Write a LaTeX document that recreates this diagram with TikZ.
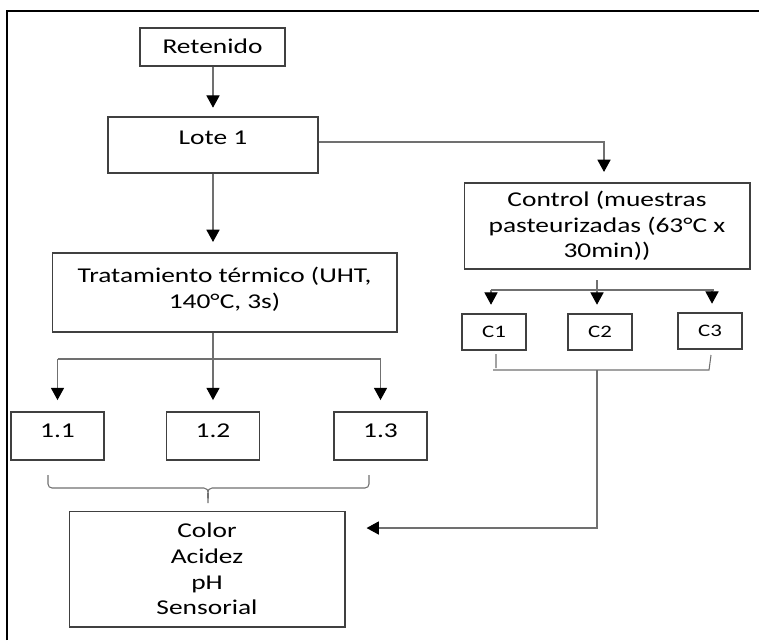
\documentclass[tikz,border=0pt]{standalone}
\usepackage{fontspec}
\setmainfont{Carlito}[FakeStretch=1.3]
\usetikzlibrary{arrows.meta}
\definecolor{lingray}{RGB}{112,112,112}
\definecolor{boxgray}{RGB}{64,64,64}
\tikzset{
	box/.style = {draw=boxgray, line width=0.6pt, inner sep=0pt, align=center,
		font=\fontsize{12}{14.6}\selectfont},
	conn/.style = {draw=lingray, line width=0.6pt},
	arr/.style = {conn, -{Triangle[width=7.5pt,length=7pt,color=black]}}
}
\begin{document}
\begin{tikzpicture}[x=0.02cm, y=-0.02cm]
	\useasboundingbox (0,0) rectangle (759,640);
	% frame, only top and left show
	\draw[line width=1.3pt] (7,640) -- (7,11) -- (759,11);
	% main column
	\node[box, minimum width=2.9cm, text height=0.5cm, text depth=0.26cm] (retenido) at (212.5,47) {Retenido};
	\node[box, minimum width=4.2cm, text height=0.54cm, text depth=0.58cm] (lote) at (213,145) {Lote 1};
	\node[box, minimum width=6.9cm, minimum height=1.58cm] (tratamiento) at (224.5,292.5)
		{Tratamiento t\'ermico (UHT,\\140°C, 3s)\\[-9pt]};
	\node[box, minimum width=5.72cm, minimum height=1.72cm] (control) at (607,226)
		{Control (muestras\\pasteurizadas (63°C x\\30min))};
	% samples
	\foreach \nm/\xx/\tt in {m11/57.5/1.1, m12/213/1.2, m13/380.5/1.3}
		\node[box, minimum width=1.86cm, text height=0.5cm, text depth=0.46cm] (\nm) at (\xx,436) {\tt};
	\foreach \nm/\xx/\yy/\tt in {c1/494/332/C1, c2/600/332/C2, c3/710/331/C3}
		\node[box, minimum width=1.28cm, minimum height=0.72cm, font=\fontsize{10}{12}\selectfont]
			(\nm) at (\xx,\yy) {\tt};
	\node[box, minimum width=5.52cm, minimum height=2.32cm] (analisis) at (207,569)
		{Color\\Acidez\\pH\\Sensorial};
	% arrows down the left side
	\draw[arr, shorten >=5pt] (retenido.south -| lote) -- (lote.north);
	\draw[arr, shorten >=6pt] (lote.south) -- (lote.south |- tratamiento.north);
	\coordinate (tb) at (213,359);
	\draw[arr, shorten >=6.5pt] (tratamiento.south -| lote) -- (m12.north);
	\draw[conn] (tb -| m11) -- (tb -| m13);
	\draw[arr, shorten >=6.5pt] (tb -| m11) -- (m11.north);
	\draw[arr, shorten >=6.5pt] (tb -| m13) -- (m13.north);
	% branch to control
	\coordinate (lr) at (604,142);
	\draw[arr, shorten >=6pt] (lote.east |- lr) -- (lr) -- (lr |- control.north);
	\coordinate (ctop) at (597,280);
	\coordinate (cl) at (491,290);
	\coordinate (cr) at (712,290);
	\draw[conn] (cl) -- (714,290);
	\draw[arr, shorten >=5pt] (ctop) -- (ctop |- c2.north);
	\draw[arr, shorten >=5pt] (cl) -- (cl |- c1.north);
	\draw[arr, shorten >=5pt] (cr) -- (cr |- c3.north);
	% bracket under C1..C3 and line to analysis
	\draw[conn] (496,354) -- (496,368) (493,370) -- (709,370) -- (711,355);
	\coordinate (jn) at (597,528);
	\draw[arr, shorten >=12pt] (597,370) -- (jn) -- (jn -| analisis.east);
	% brace under 1.1..1.3
	\draw[conn] (48,475) -- (48,484) to[out=-90,in=180] (52,488) -- (204,488)
		to[out=0,in=90] (208,503) to[out=90,in=180] (212,488) -- (365,488)
		to[out=0,in=-90] (369,484) -- (369,475);
\end{tikzpicture}
\end{document}
